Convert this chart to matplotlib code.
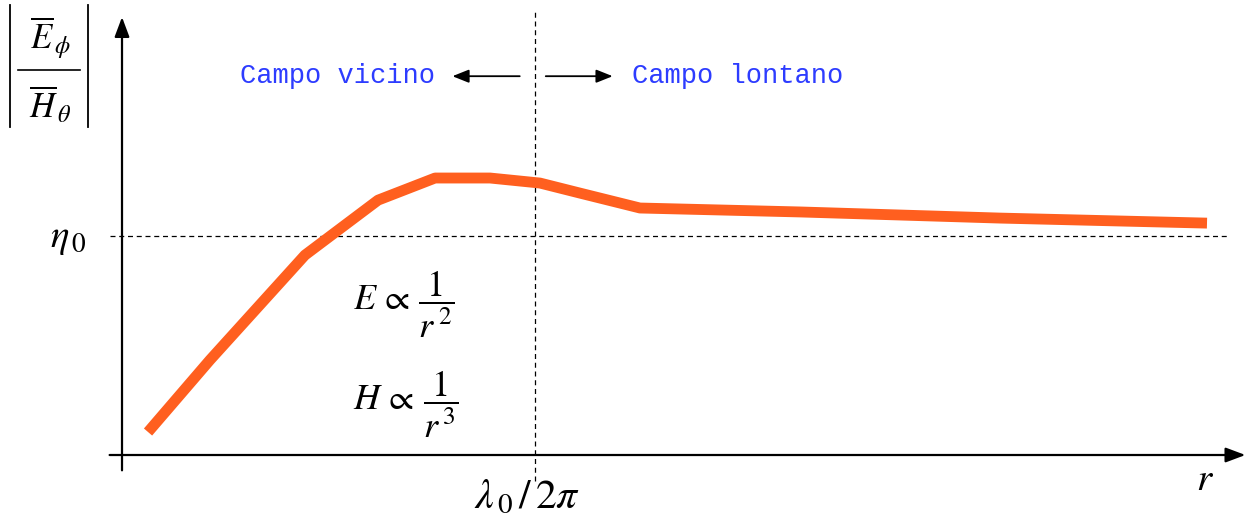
import matplotlib.pyplot as plt

# radial distance in units of lambda0/2pi, wave impedance in units of eta0
r_vals = [0.063, 0.213, 0.443, 0.620, 0.758, 0.891, 1.012, 1.109, 1.254, 1.642, 2.126, 2.627]
z_vals = [0.105, 0.434, 0.913, 1.164, 1.265, 1.265, 1.242, 1.196, 1.128, 1.110, 1.082, 1.059]

plt.rcParams['mathtext.fontset'] = 'stix'

fig = plt.figure(figsize=(12.45, 5.18), dpi=100)
ax = fig.add_axes([0, 0, 1, 1])
ax.set_xlim(-0.2954, 2.719)
ax.set_ylim(-0.2877, 2.078)
ax.axis('off')

# coordinate axes with arrow heads
arrow = dict(arrowstyle='-|>,head_length=1.2,head_width=0.45', color='black', lw=1.6,
             shrinkA=0, shrinkB=0)
ax.annotate('', xy=(2.72, 0), xytext=(-0.03, 0), arrowprops=arrow)
ax.annotate('', xy=(0, 2.0), xytext=(0, -0.07), arrowprops=arrow)

# reference lines: eta0 and r = lambda0/2pi
ax.plot([-0.03, 2.68], [1, 1], ls=(0, (4, 3)), color='black', lw=0.9)
ax.plot([1, 1], [-0.12, 2.03], ls=(0, (4, 3)), color='black', lw=0.9)

ax.plot(r_vals, z_vals, color='#ff5f1f', lw=7.8, solid_capstyle='butt', solid_joinstyle='round')

# region labels
blue = '#2d3cff'
ax.text(0.758, 1.73, 'Campo vicino', ha='right', va='center', color=blue,
        family='Liberation Mono', fontsize=19.5)
ax.text(1.235, 1.73, 'Campo lontano', ha='left', va='center', color=blue,
        family='Liberation Mono', fontsize=19.5)
small = dict(arrowstyle='-|>,head_length=1.0,head_width=0.4', color='black', lw=1.3,
             shrinkA=0, shrinkB=0)
ax.annotate('', xy=(0.8, 1.73), xytext=(0.963, 1.73), arrowprops=small)
ax.annotate('', xy=(1.188, 1.73), xytext=(1.026, 1.73), arrowprops=small)

# asymptotic behaviour in the near field
ax.text(0.56, 0.69, r'$E\,\propto\,\dfrac{1}{r^{\,2}}$', fontsize=26, ha='left', va='center')
ax.text(0.56, 0.23, r'$H\,\propto\,\dfrac{1}{r^{\,3}}$', fontsize=26, ha='left', va='center')

# axis labels
ax.text(-0.131, 0.99, r'$\eta_{\,0}$', fontsize=28, ha='center', va='center')
ax.text(0.98, -0.19, r'$\lambda_{\,0}\,/\,2\pi$', fontsize=30, ha='center', va='center')
ax.text(2.622, -0.11, r'$r$', fontsize=28, ha='center', va='center')

# |E_phi / H_theta| drawn as two stacked symbols between vertical bars
ax.text(-0.174, 1.905, r'$\overline{E}_{\,\phi}$', fontsize=25, ha='center', va='center')
ax.text(-0.174, 1.60, r'$\overline{H}_{\,\theta}$', fontsize=25, ha='center', va='center')
ax.plot([-0.252, -0.102], [1.758, 1.758], color='black', lw=1.2)
for xb in (-0.271, -0.0823):
    ax.plot([xb, xb], [1.498, 2.055], color='black', lw=1.3)

fig.savefig('out.png', dpi=100, facecolor='white')
